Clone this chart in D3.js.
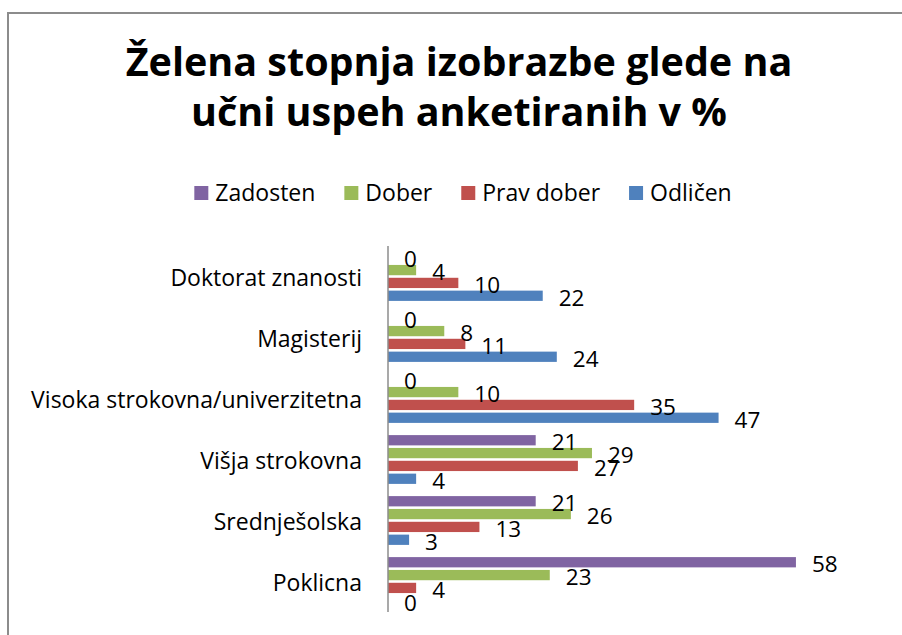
<!DOCTYPE html>
<html>
<head>
<meta charset="utf-8">
<script src="https://cdn.jsdelivr.net/npm/d3@7"></script>
<style>
  body { margin: 0; background: #fff; }
  text { font-family: "Open Sans", Lato, sans-serif; fill: #000; }
</style>
</head>
<body>
<svg width="902" height="635"></svg>
<script>
// data
const categories = ['Doktorat znanosti', 'Magisterij', 'Visoka strokovna/univerzitetna', 'Višja strokovna', 'Srednješolska', 'Poklicna'];
const seriesNames = ['Zadosten', 'Dober', 'Prav dober', 'Odličen'];
const seriesColors = ['#8064A2', '#9BBB59', '#C0504D', '#4F81BD'];
const zadosten = [0, 0, 0, 21, 21, 58];
const dober = [4, 8, 10, 29, 26, 23];
const pravDober = [10, 11, 35, 27, 13, 4];
const odlicen = [22, 24, 47, 4, 3, 0];
const titleLines = ['Želena stopnja izobrazbe glede na', 'učni uspeh anketiranih v %'];

const allSeries = [zadosten, dober, pravDober, odlicen];

const svg = d3.select('svg');

// chart frame (runs off the right and bottom edge)
svg.append('path')
  .attr('d', 'M8,640 L8,13 L910,13')
  .attr('fill', 'none')
  .attr('stroke', '#8c8c8c')
  .attr('stroke-width', 2);

// title
svg.append('text')
  .attr('text-anchor', 'middle')
  .style('font-weight', 'bold')
  .style('font-size', '39.5px')
  .selectAll('tspan').data(titleLines)
  .enter().append('tspan')
  .attr('x', 459)
  .attr('y', (d, i) => 76 + i * 50)
  .text(d => d);

// scales
const y = d3.scaleBand()
  .domain(categories)
  .range([246, 612])
  .paddingInner(0.2)
  .paddingOuter(0.1);

const yInner = d3.scaleBand()
  .domain(seriesNames)
  .range([0, y.bandwidth()])
  .paddingInner(0.2);

const x = d3.scaleLinear()
  .domain([0, 60])
  .range([388, 810]);

// flatten to one row per bar
const bars = [];
categories.forEach((cat, ci) => {
  seriesNames.forEach((s, si) => {
    bars.push({ cat: cat, series: s, color: seriesColors[si], value: allSeries[si][ci] });
  });
});

const g = svg.append('g');

g.selectAll('rect').data(bars)
  .enter().append('rect')
  .attr('x', x(0))
  .attr('y', d => y(d.cat) + yInner(d.series))
  .attr('width', d => x(d.value) - x(0))
  .attr('height', yInner.bandwidth())
  .attr('fill', d => d.color);

// value labels (Excel puts them a bit right of and below the bar end)
g.selectAll('.val').data(bars)
  .enter().append('text')
  .attr('class', 'val')
  .attr('x', d => x(d.value) + 16)
  .attr('y', d => y(d.cat) + yInner(d.series) + yInner.bandwidth() / 2 + 2)
  .attr('dy', '0.36em')
  .style('font-size', '22.5px')
  .text(d => d.value);

// category axis
const axis = svg.append('g')
  .attr('transform', `translate(${x(0)},0)`)
  .call(d3.axisLeft(y).tickSize(0).tickPadding(26));

axis.select('.domain')
  .attr('stroke', '#8c8c8c')
  .attr('stroke-width', 1.5)
  .attr('d', `M0,${y.range()[0]}V${y.range()[1]}`);

axis.selectAll('.tick text')
  .attr('dy', '0.42em')
  .style('font-size', '23px')
  .style('font-family', '"Open Sans", sans-serif')
  .attr('fill', '#000');

// legend, centred
const legend = svg.append('g').attr('transform', 'translate(0,201)');
const items = legend.selectAll('g').data(seriesNames)
  .enter().append('g');

items.append('rect')
  .attr('y', -15)
  .attr('width', 14)
  .attr('height', 14)
  .attr('fill', (d, i) => seriesColors[i]);

items.append('text')
  .attr('x', 21)
  .style('font-size', '23px')
  .text(d => d);

let pos = 0;
const offsets = [];
items.each(function() {
  offsets.push(pos);
  const w = d3.select(this).select('text').node().getComputedTextLength();
  pos += 21 + w + 29;
});
const legendWidth = pos - 29;
const startX = 463 - legendWidth / 2;
items.attr('transform', (d, i) => `translate(${startX + offsets[i]},0)`);
</script>
</body>
</html>
